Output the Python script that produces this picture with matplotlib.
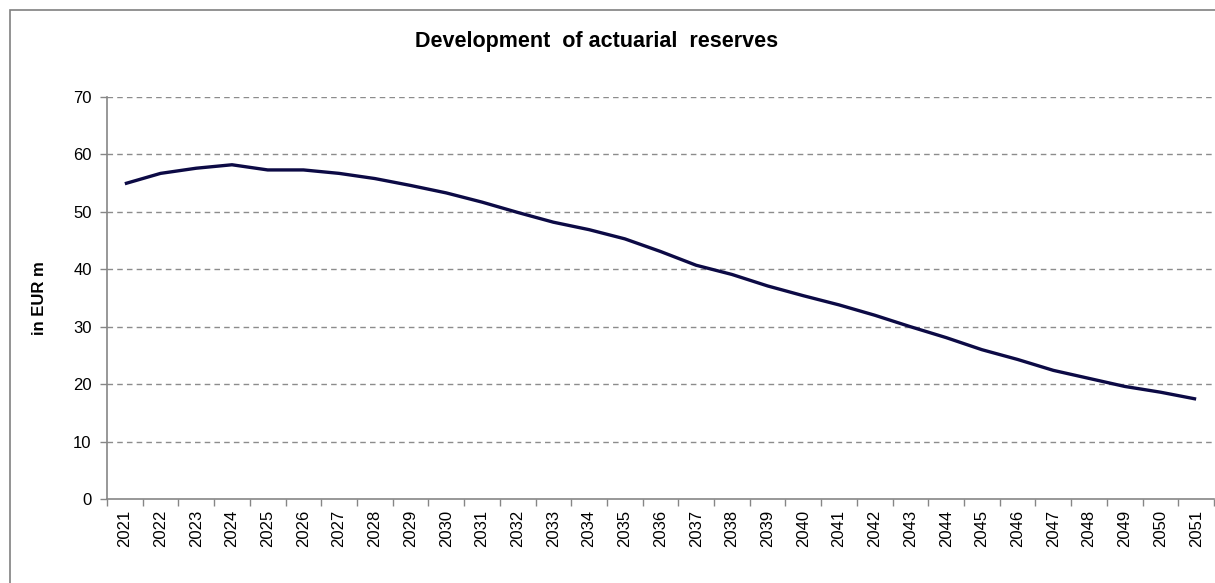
"""Development of actuarial reserves, 2021-2051 (in EUR m)."""

import matplotlib
matplotlib.use("Agg")
import matplotlib.pyplot as plt
from matplotlib.patches import Rectangle
import numpy as np

plt.rcParams["font.family"] = ["Liberation Sans", "DejaVu Sans"]

# ---------------------------------------------------------------------------
# Data
# ---------------------------------------------------------------------------
years = [str(y) for y in range(2021, 2052)]
reserves = [
    54.9, 56.7, 57.6, 58.2, 57.3, 57.3, 56.7, 55.8, 54.6, 53.3,
    51.7, 49.9, 48.2, 46.9, 45.3, 43.1, 40.7, 39.1, 37.1, 35.4,
    33.8, 32.0, 30.0, 28.1, 26.0, 24.3, 22.4, 21.0, 19.6, 18.6,
    17.4,
]
y_ticks = [0, 10, 20, 30, 40, 50, 60, 70]

W, H = 1215, 583
AXIS_GREY = "#868686"
LINE_COLOR = "#0c0a45"

fig = plt.figure(figsize=(W / 100, H / 100), dpi=100)
ax = fig.add_axes([107 / W, 1 - 499 / H, (1214 - 107) / W, (499 - 97) / H])

x = np.arange(len(years))
ax.plot(x, reserves, color=LINE_COLOR, lw=2.4, solid_joinstyle="round",
        solid_capstyle="butt", zorder=3)

# ── axes ─────────────────────────────────────────────────────────────────
ax.set_xlim(-0.5, len(years) - 0.5)
ax.set_ylim(0, 70)
ax.set_yticks(y_ticks)
ax.set_yticklabels([str(v) for v in y_ticks], fontsize=12)

# tick marks between categories, labels at the category centres
ax.set_xticks(np.arange(-0.5, len(years), 1.0))
ax.set_xticklabels([])
ax.set_xticks(x, minor=True)
ax.set_xticklabels(years, minor=True, rotation=90, fontsize=12)
ax.tick_params(axis="x", which="major", length=5, width=1, color=AXIS_GREY,
               direction="out")
ax.tick_params(axis="x", which="minor", length=0, pad=8)
ax.tick_params(axis="y", length=5, width=1, color=AXIS_GREY, pad=6)

for side in ("top", "right"):
    ax.spines[side].set_visible(False)
for side in ("left", "bottom"):
    ax.spines[side].set_color(AXIS_GREY)
    ax.spines[side].set_linewidth(1.2)

for v in y_ticks[1:]:
    ax.axhline(v, color="#8c8c8c", lw=1.0, ls=(0, (4, 3)), zorder=1)

# ── texts ───────────────────────────────────────────────────────────────
fig.text(597 / W, 1 - 42 / H, "Development  of actuarial  reserves",
         ha="center", va="center", fontsize=15.5, fontweight="bold")
fig.text(40 / W, 1 - 298 / H, "in EUR m", rotation=90, ha="center",
         va="center", fontsize=12, fontweight="bold")

# outer frame (cropped at the right and bottom in the reference)
fig.patches.append(Rectangle((10 / W, -0.1), 1.2, 1.1 - 10 / H,
                             transform=fig.transFigure, fill=False,
                             edgecolor="#808080", lw=1.2))

fig.savefig("out.png", dpi=100)
